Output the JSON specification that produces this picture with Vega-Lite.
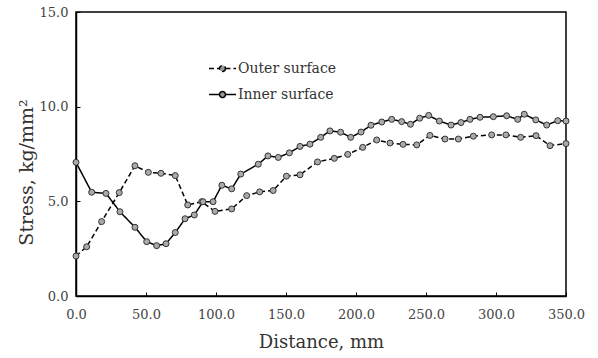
{
  "$schema": "https://vega.github.io/schema/vega-lite/v6.json",
  "width": 490,
  "height": 284,
  "autosize": {"type": "none"},
  "padding": {"left": 76, "top": 12, "right": 32, "bottom": 62},
  "background": "white",
  "config": {
    "view": {"stroke": "black", "strokeWidth": 1.5},
    "font": "DejaVu Serif",
    "axis": {
      "grid": false,
      "domainColor": "black",
      "domainWidth": 1.5,
      "tickColor": "black",
      "tickSize": -4,
      "tickWidth": 1,
      "labelFlush": false,
      "labelFont": "DejaVu Serif",
      "labelFontSize": 13,
      "labelColor": "#444",
      "titleFont": "DejaVu Serif",
      "titleFontSize": 18,
      "titleFontWeight": "normal",
      "titleColor": "#333"
    }
  },
  "data": {
    "values": [
      {"series": "Outer surface", "distance": 0, "stress": 2.11},
      {"series": "Outer surface", "distance": 7.6, "stress": 2.6},
      {"series": "Outer surface", "distance": 18.3, "stress": 3.93},
      {"series": "Outer surface", "distance": 30.9, "stress": 5.46},
      {"series": "Outer surface", "distance": 42.1, "stress": 6.88},
      {"series": "Outer surface", "distance": 51.7, "stress": 6.53},
      {"series": "Outer surface", "distance": 60.7, "stress": 6.48},
      {"series": "Outer surface", "distance": 70.9, "stress": 6.36},
      {"series": "Outer surface", "distance": 79.8, "stress": 4.81},
      {"series": "Outer surface", "distance": 89.8, "stress": 4.98},
      {"series": "Outer surface", "distance": 99.3, "stress": 4.47},
      {"series": "Outer surface", "distance": 111.2, "stress": 4.6},
      {"series": "Outer surface", "distance": 121.9, "stress": 5.3},
      {"series": "Outer surface", "distance": 131.2, "stress": 5.5},
      {"series": "Outer surface", "distance": 140.8, "stress": 5.57},
      {"series": "Outer surface", "distance": 150.3, "stress": 6.33},
      {"series": "Outer surface", "distance": 160, "stress": 6.4},
      {"series": "Outer surface", "distance": 172.5, "stress": 7.08},
      {"series": "Outer surface", "distance": 184.5, "stress": 7.27},
      {"series": "Outer surface", "distance": 194.1, "stress": 7.48},
      {"series": "Outer surface", "distance": 204.8, "stress": 7.85},
      {"series": "Outer surface", "distance": 214.8, "stress": 8.24},
      {"series": "Outer surface", "distance": 224.3, "stress": 8.08},
      {"series": "Outer surface", "distance": 233.6, "stress": 8.01},
      {"series": "Outer surface", "distance": 243.4, "stress": 7.98},
      {"series": "Outer surface", "distance": 252.8, "stress": 8.48},
      {"series": "Outer surface", "distance": 263.6, "stress": 8.29},
      {"series": "Outer surface", "distance": 273.1, "stress": 8.29},
      {"series": "Outer surface", "distance": 283.8, "stress": 8.44},
      {"series": "Outer surface", "distance": 296.9, "stress": 8.51},
      {"series": "Outer surface", "distance": 307.1, "stress": 8.51},
      {"series": "Outer surface", "distance": 317.6, "stress": 8.38},
      {"series": "Outer surface", "distance": 328.6, "stress": 8.47},
      {"series": "Outer surface", "distance": 338.6, "stress": 7.94},
      {"series": "Outer surface", "distance": 350, "stress": 8.05},
      {"series": "Inner surface", "distance": 0, "stress": 7.06},
      {"series": "Inner surface", "distance": 11.2, "stress": 5.48},
      {"series": "Inner surface", "distance": 21.4, "stress": 5.42},
      {"series": "Inner surface", "distance": 31.4, "stress": 4.45},
      {"series": "Inner surface", "distance": 42.1, "stress": 3.63},
      {"series": "Inner surface", "distance": 50.5, "stress": 2.87},
      {"series": "Inner surface", "distance": 57.6, "stress": 2.66},
      {"series": "Inner surface", "distance": 64.3, "stress": 2.76},
      {"series": "Inner surface", "distance": 70.9, "stress": 3.35},
      {"series": "Inner surface", "distance": 77.9, "stress": 4.08},
      {"series": "Inner surface", "distance": 84.5, "stress": 4.28},
      {"series": "Inner surface", "distance": 90.7, "stress": 4.98},
      {"series": "Inner surface", "distance": 97.9, "stress": 4.98},
      {"series": "Inner surface", "distance": 104.2, "stress": 5.85},
      {"series": "Inner surface", "distance": 111.2, "stress": 5.66},
      {"series": "Inner surface", "distance": 117.7, "stress": 6.44},
      {"series": "Inner surface", "distance": 130.2, "stress": 6.96},
      {"series": "Inner surface", "distance": 137.1, "stress": 7.4},
      {"series": "Inner surface", "distance": 144.5, "stress": 7.32},
      {"series": "Inner surface", "distance": 152.4, "stress": 7.56},
      {"series": "Inner surface", "distance": 160, "stress": 7.9},
      {"series": "Inner surface", "distance": 167.1, "stress": 8.02},
      {"series": "Inner surface", "distance": 174.8, "stress": 8.38},
      {"series": "Inner surface", "distance": 181.4, "stress": 8.72},
      {"series": "Inner surface", "distance": 189, "stress": 8.65},
      {"series": "Inner surface", "distance": 196.2, "stress": 8.38},
      {"series": "Inner surface", "distance": 203.6, "stress": 8.66},
      {"series": "Inner surface", "distance": 210.7, "stress": 9.02},
      {"series": "Inner surface", "distance": 218.4, "stress": 9.19},
      {"series": "Inner surface", "distance": 225.5, "stress": 9.33},
      {"series": "Inner surface", "distance": 232.6, "stress": 9.21},
      {"series": "Inner surface", "distance": 238.9, "stress": 9.07},
      {"series": "Inner surface", "distance": 245.5, "stress": 9.39},
      {"series": "Inner surface", "distance": 251.9, "stress": 9.54},
      {"series": "Inner surface", "distance": 259.5, "stress": 9.24},
      {"series": "Inner surface", "distance": 267.9, "stress": 9.03},
      {"series": "Inner surface", "distance": 275, "stress": 9.16},
      {"series": "Inner surface", "distance": 281.4, "stress": 9.33},
      {"series": "Inner surface", "distance": 288.6, "stress": 9.44},
      {"series": "Inner surface", "distance": 298.1, "stress": 9.47},
      {"series": "Inner surface", "distance": 307.6, "stress": 9.52},
      {"series": "Inner surface", "distance": 315.5, "stress": 9.33},
      {"series": "Inner surface", "distance": 320.2, "stress": 9.6},
      {"series": "Inner surface", "distance": 328.4, "stress": 9.3},
      {"series": "Inner surface", "distance": 336.2, "stress": 9.03},
      {"series": "Inner surface", "distance": 344.1, "stress": 9.26},
      {"series": "Inner surface", "distance": 350, "stress": 9.24}
    ]
  },
  "encoding": {
    "x": {
      "field": "distance",
      "type": "quantitative",
      "scale": {"domain": [0, 350], "nice": false, "zero": false},
      "axis": {
        "title": "Distance, mm",
        "values": [0, 50, 100, 150, 200, 250, 300, 350],
        "format": ".1f",
        "labelPadding": 16,
        "titlePadding": 12
      }
    },
    "y": {
      "field": "stress",
      "type": "quantitative",
      "scale": {"domain": [0, 15], "nice": false},
      "axis": {
        "title": "Stress, kg/mm²",
        "titleFontSize": 19,
        "values": [0, 5, 10, 15],
        "format": ".1f",
        "labelPadding": 12,
        "titleX": -40,
        "titleY": 160
      }
    }
  },
  "layer": [
    {
      "mark": {"type": "line", "color": "black", "strokeWidth": 1.5},
      "encoding": {
        "strokeDash": {
          "field": "series",
          "type": "nominal",
          "scale": {"domain": ["Outer surface", "Inner surface"], "range": [[5, 3], [1, 0]]},
          "legend": {
            "title": null,
            "orient": "none",
            "legendX": 132,
            "legendY": 42,
            "symbolType": "M-1,0L-0.22,0M0.22,0L1,0M0.22,0A0.22,0.22 0 1 1 -0.22,0A0.22,0.22 0 1 1 0.22,0",
            "symbolSize": 729,
            "symbolStrokeColor": "black",
            "symbolStrokeWidth": 1.5,
            "symbolFillColor": "#999",
            "labelFont": "DejaVu Serif",
            "labelFontSize": 14,
            "labelColor": "#333",
            "labelOffset": 1,
            "rowPadding": 4
          }
        }
      }
    },
    {
      "mark": {"type": "point", "shape": "circle", "filled": true, "fill": "#aaa", "stroke": "#333", "strokeWidth": 1, "size": 36, "opacity": 1},
      "encoding": {"detail": {"field": "series"}}
    }
  ]
}
